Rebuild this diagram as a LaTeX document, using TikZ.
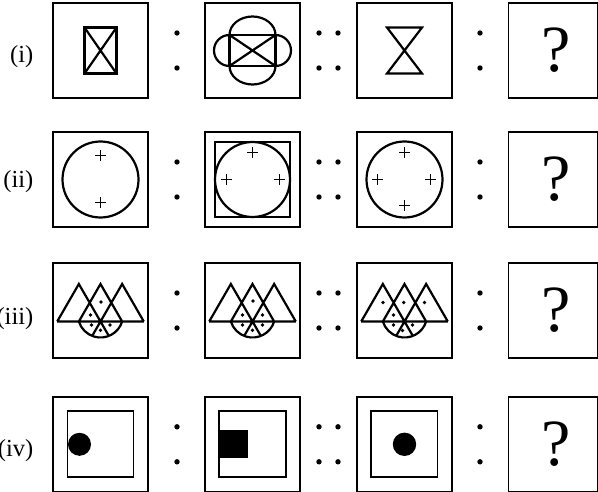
\documentclass[tikz,border=0pt]{standalone}
\usepackage{fontspec}
\setmainfont{Liberation Serif}
\begin{document}
\begin{tikzpicture}[x=1pt,y=-1pt,
  frame/.style={draw=black, line width=1.7pt, minimum width=95pt, minimum height=95pt, inner sep=0pt},
  lastframe/.style={frame, minimum width=89pt},
  fig/.style={line width=2.2pt},
  inner/.style={line width=1.7pt},
  thinline/.style={line width=1pt},
  lbl/.style={font=\fontsize{24.5}{26}\selectfont, anchor=base east, inner sep=0pt},
  qm/.style={font=\fontsize{66}{66}\selectfont, inner sep=0pt},
  plus/.pic={\draw[thinline] (-5.5,0) -- (5.5,0) (0,-5.5) -- (0,5.5);},
  sdot/.pic={\fill (0,0) circle (1.9);},
  trifig/.pic={
    \draw[fig, line join=miter] (-43.3,11) -- (43.3,11)
      (-43.3,11) -- (-21.65,-26.5) -- (0,11) -- (8.32,25.42)
      (-21.65,11) -- (0,-26.5) -- (21.65,11)
      (43.3,11) -- (21.65,-26.5) -- (0,11) -- (-8.32,25.42);
    \draw[fig] (21.66,10.97) arc[start angle=17, end angle=163, radius=22.65];
  },
  colon/.pic={\fill (0,-17.5) circle (2.7) (0,17.5) circle (2.7);}
]
\useasboundingbox (0,0) rectangle (598,492);

% ---------- labels ----------
\node[lbl] (l1) at (33.5,63) {(i)};
\node[lbl] (l2) at (33.5,188) {(ii)};
\node[lbl] (l3) at (33.5,325) {(iii)};
\node[lbl] (l4) at (33.5,456) {(iv)};

% ---------- frames ----------
\foreach \r/\y in {1/50.5,2/179.5,3/310.5,4/444.3}{
  \node[frame] (b\r1) at (100.5,\y) {};
  \node[frame] (b\r2) at (252.5,\y) {};
  \node[frame] (b\r3) at (404.5,\y) {};
  \node[lastframe] (b\r4) at (553,\y) {};
  \node[qm] (q\r) at (556,\y) {?};
  \pic at (177,\y) {colon};
  \pic at (319,\y) {colon};
  \pic at (338,\y) {colon};
  \pic at (480,\y) {colon};
}

% ---------- row (i) ----------
\begin{scope}[shift={(b11.center)}]
  \draw[fig] (-16,-23) rectangle (16,23);
  \draw[fig] (-16,-23) -- (16,23) (-16,23) -- (16,-23);
\end{scope}
\begin{scope}[shift={(b12.center)}]
  \draw[fig] (-23,-15.5) rectangle (23,15.5);
  \draw[fig] (-23,-15.5) -- (23,15.5) (-23,15.5) -- (23,-15.5);
  \draw[fig] (-23,-15.5) arc[start angle=180, end angle=360, x radius=23, y radius=18.5];
  \draw[fig] (23,15.5) arc[start angle=0, end angle=180, x radius=23, y radius=18.5];
  \draw[fig] (-23,-15.5) arc[start angle=270, end angle=90, radius=15.5];
  \draw[fig] (23,-15.5) arc[start angle=-90, end angle=90, radius=15.5];
\end{scope}
\begin{scope}[shift={(b13.center)}]
  \draw[fig] (-17.5,-23) -- (17.5,-23) -- (-17.5,23) -- (17.5,23) -- cycle;
\end{scope}

% ---------- row (ii) ----------
\begin{scope}[shift={(b21.center)}]
  \draw[fig] (0,0) circle (38);
  \pic at (0,-23.5) {plus};
  \pic at (0,23.5) {plus};
\end{scope}
\begin{scope}[shift={(b22.center)}]
  \draw[inner] (-37.5,-37.5) rectangle (37.5,37.5);
  \draw[fig] (0,0) circle (37.5);
  \pic at (0,-26.5) {plus};
  \pic at (-26.5,0) {plus};
  \pic at (26.5,0) {plus};
\end{scope}
\begin{scope}[shift={(b23.center)}]
  \draw[fig] (0,0) circle (38);
  \pic at (0,-26.5) {plus};
  \pic at (0,26) {plus};
  \pic at (-27,0) {plus};
  \pic at (26,0) {plus};
\end{scope}

% ---------- row (iii) ----------
\begin{scope}[shift={(b31.center)}]
  \pic at (0,0) {trifig};
  \pic at (0.5,-8.5) {sdot};
  \pic at (-10,4.5) {sdot};
  \pic at (-9,14.5) {sdot};
  \pic at (0,19.8) {sdot};
  \pic at (9.5,14.5) {sdot};
\end{scope}
\begin{scope}[shift={(b32.center)}]
  \pic at (0,0) {trifig};
  \pic at (0.5,-9.5) {sdot};
  \pic at (-10,4.5) {sdot};
  \pic at (10,4.5) {sdot};
  \pic at (-10,14.5) {sdot};
  \pic at (0,19.8) {sdot};
  \pic at (10,14.5) {sdot};
\end{scope}
\begin{scope}[shift={(b33.center)}]
  \pic at (0,0) {trifig};
  \pic at (-21.5,-8) {sdot};
  \pic at (-0.8,-8) {sdot};
  \pic at (20,-8) {sdot};
  \pic at (-11,4.5) {sdot};
  \pic at (-11,14.5) {sdot};
  \pic at (-2,20) {sdot};
  \pic at (8,14.5) {sdot};
\end{scope}

% ---------- row (iv) ----------
\begin{scope}[shift={(b41.center)}]
  \draw[inner] (-33,-33) rectangle (33,33);
  \fill (-21,0) circle (11.5);
\end{scope}
\begin{scope}[shift={(b42.center)}]
  \draw[inner] (-33.5,-33) rectangle (33.5,33);
  \fill (-33.5,-14) rectangle (-4.5,14);
\end{scope}
\begin{scope}[shift={(b43.center)}]
  \draw[inner] (-33.5,-33) rectangle (33,33);
  \fill (0,0) circle (11.7);
\end{scope}
\end{tikzpicture}
\end{document}
